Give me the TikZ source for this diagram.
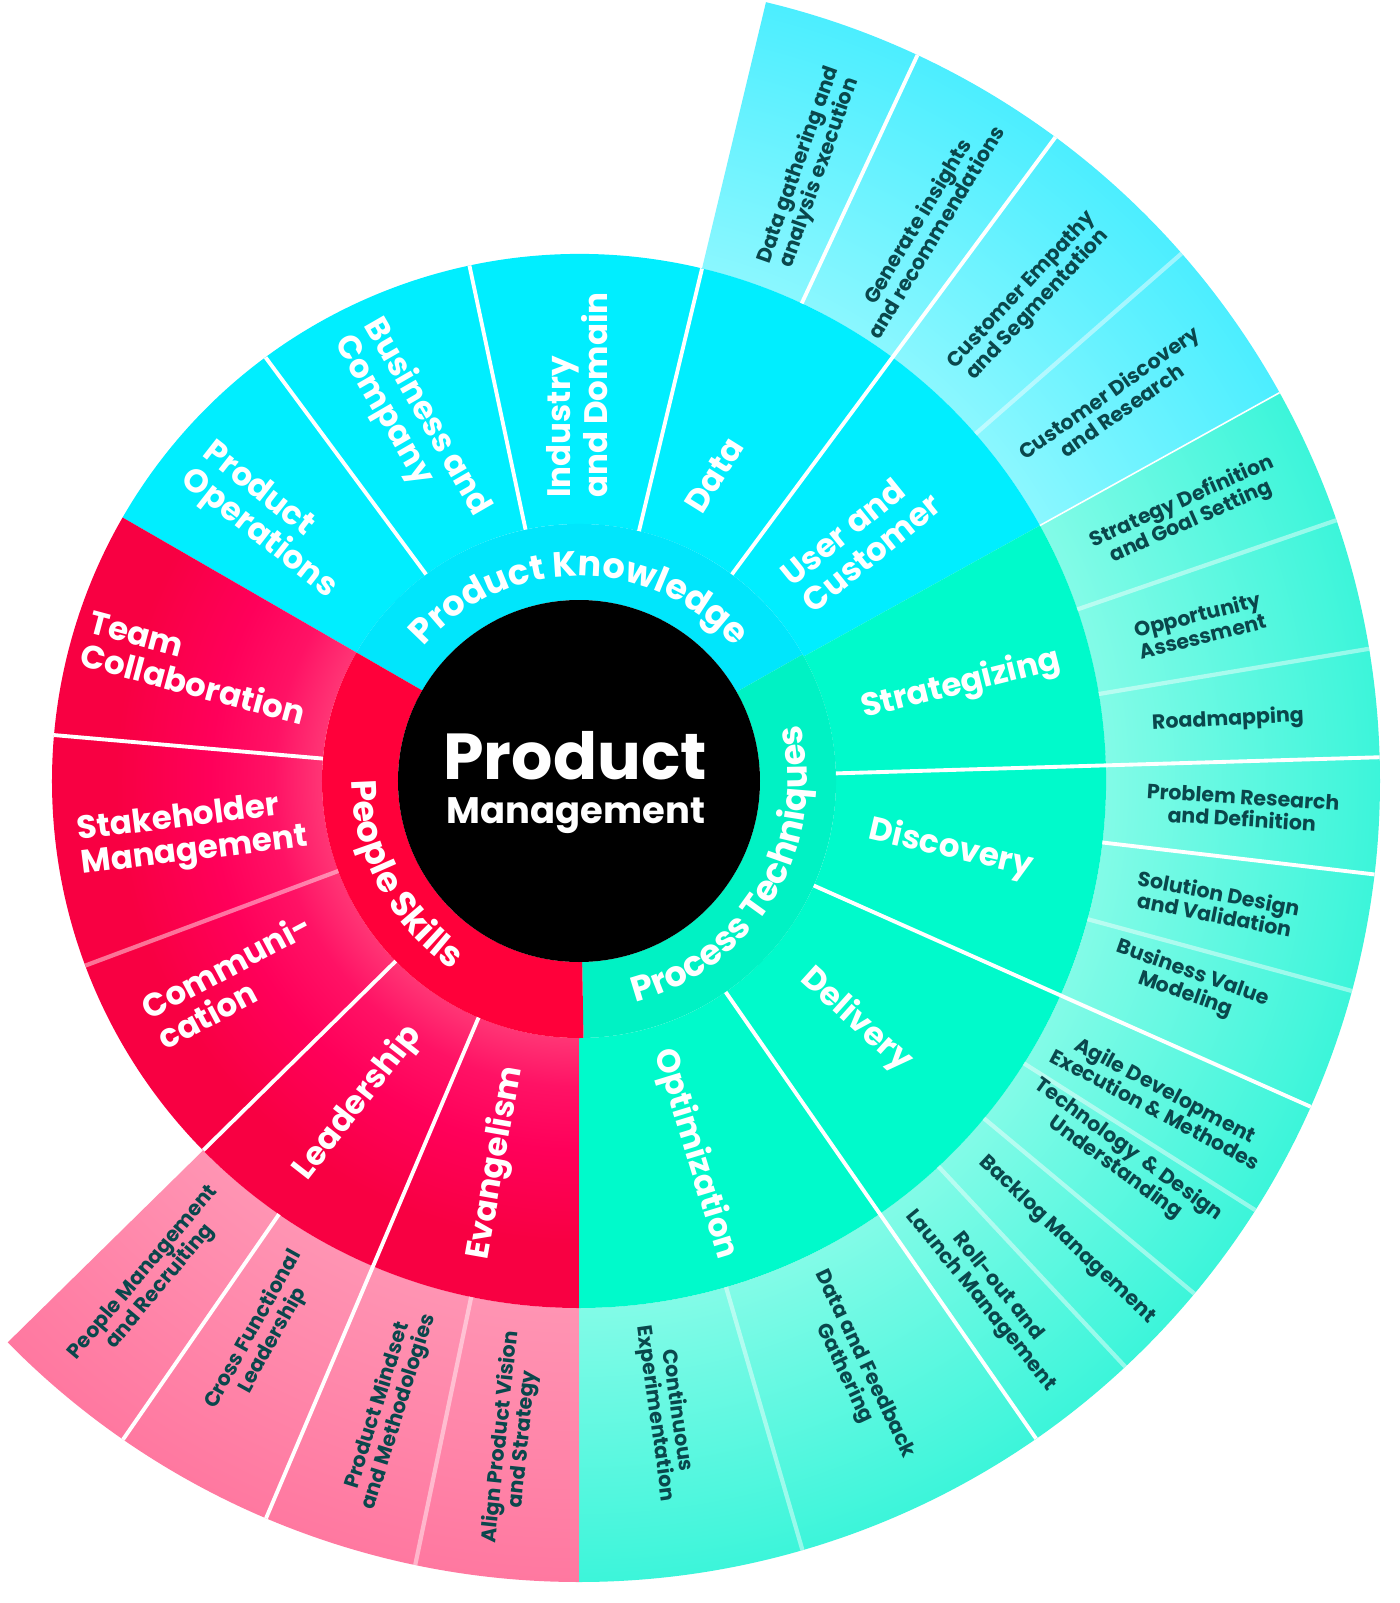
\documentclass[tikz,border=0pt]{standalone}
\usepackage{fontspec}
\setmainfont{Poppins}
\usetikzlibrary{decorations.text}

\definecolor{pkinner}{HTML}{00E6FC}
\definecolor{pkmid}{HTML}{00EEFF}
\definecolor{pkleafin}{HTML}{8AF7FF}
\definecolor{pkleafout}{HTML}{4CEEFF}
\definecolor{ptinner}{HTML}{00F2C4}
\definecolor{ptmid}{HTML}{00FACB}
\definecolor{ptleafin}{HTML}{82FBE7}
\definecolor{ptleafout}{HTML}{3CF5DA}
\definecolor{psinner}{HTML}{FF003A}
\definecolor{psmid}{HTML}{FF005A}
\definecolor{psouter}{HTML}{F80042}
\definecolor{psglow}{HTML}{FF3575}
\definecolor{psglowb}{HTML}{FF1265}
\definecolor{psleafin}{HTML}{FF94B3}
\definecolor{psleafout}{HTML}{FF78A0}
\definecolor{leaftext}{HTML}{0A474C}

\pgfdeclareradialshading{psringshade}{\pgfpoint{0bp}{0bp}}{color(0bp)=(psglow); color(12.2bp)=(psglow); color(14.5bp)=(psglowb); color(17.5bp)=(psmid); color(22bp)=(psouter); color(25bp)=(psouter); color(50bp)=(psouter)}
\pgfdeclareradialshading{pkleafshade}{\pgfpoint{0bp}{0bp}}{color(0bp)=(pkleafin); color(16.45bp)=(pkleafin); color(25bp)=(pkleafout); color(50bp)=(pkleafout)}
\pgfdeclareradialshading{ptleafshade}{\pgfpoint{0bp}{0bp}}{color(0bp)=(ptleafin); color(16.45bp)=(ptleafin); color(25bp)=(ptleafout); color(50bp)=(ptleafout)}
\pgfdeclareradialshading{psleafshade}{\pgfpoint{0bp}{0bp}}{color(0bp)=(psleafin); color(16.45bp)=(psleafin); color(25bp)=(psleafout); color(50bp)=(psleafout)}

\newcommand{\ringpart}[5]{\fill[#5] (#3:#1) arc[start angle=#3, end angle=#4, radius=#1] -- (#4:#2) arc[start angle=#4, end angle=#3, radius=#2] -- cycle;}
\newcommand{\ringshade}[5]{\begin{scope}\clip (#3:#1) arc[start angle=#3, end angle=#4, radius=#1] -- (#4:#2) arc[start angle=#4, end angle=#3, radius=#2] -- cycle; \shade[shading=#5] (0,0) circle[radius=#2];\end{scope}}
\newcommand{\spoke}[4]{\draw[#4] (#1:#2) -- (#1:#3);}
\newcommand{\ringfont}{\color{white}\bfseries\fontsize{20}{24}\selectfont}

\begin{document}
\begin{tikzpicture}[x=0.02cm, y=0.02cm,
    sep/.style={white, line width=2.2pt},
    softsep/.style={white, opacity=0.45, line width=2.4pt},
    thinsep/.style={white, line width=0.9pt},
    midlabel/.style={text=white, font=\bfseries\fontsize{18.5}{19.5}\selectfont, align=left, inner sep=0pt},
    leaflabel/.style={text=leaftext, font=\bfseries\fontsize{11.7}{12.6}\selectfont, align=center, inner sep=0pt},
    centretitle/.style={text=white, font=\bfseries\fontsize{37}{40}\selectfont, inner sep=0pt},
    centresub/.style={text=white, font=\bfseries\fontsize{21}{24}\selectfont, inner sep=0pt}]
    \useasboundingbox (-579,-822) rectangle (821,781);
    \fill[white] (-579,-822) rectangle (821,781);

    \ringshade{527}{801}{29}{76.5}{pkleafshade}
    \ringshade{527}{801}{-90}{29}{ptleafshade}
    \ringshade{527}{801}{224.5}{270}{psleafshade}
    \ringpart{257}{527}{29}{150}{pkmid}
    \ringpart{257}{527}{-90}{29}{ptmid}
    \ringshade{257}{527}{150}{270}{psringshade}
    \ringpart{181}{257}{29.5}{150}{pkinner}
    \ringpart{181}{257}{-89}{29.5}{ptinner}
    \ringpart{181}{257}{150}{271}{psinner}
    \fill[black] (0,0) circle[radius=181];

    \spoke{126.5}{257}{527}{sep}
    \spoke{102}{257}{527}{sep}
    \spoke{76.5}{257}{527}{sep}
    \spoke{53.5}{257}{801}{sep}
    \spoke{175}{257}{527}{sep}
    \spoke{200.5}{257}{527}{softsep}
    \spoke{224.5}{257}{527}{sep}
    \spoke{247}{257}{801}{sep}
    \spoke{1.7}{257}{801}{sep}
    \spoke{-24}{257}{801}{sep}
    \spoke{-55.2}{257}{801}{sep}
    \spoke{65}{527}{801}{sep}
    \spoke{-6.7}{527}{801}{sep}
    \spoke{235.3}{527}{801}{sep}
    \spoke{29}{527}{801}{thinsep}
    \foreach \a in {41.2, 19, 9.5, -15.2, -32.4, -39.8, -47, -73.8, 258.2}
        {\spoke{\a}{527}{801}{softsep}}

    \path[decorate, decoration={text along path, text align=center, text={|\ringfont|Product Knowledge}}]
        (149.85:205) arc[start angle=149.85, end angle=29.85, radius=205];
    \path[decorate, decoration={text along path, text align=center, text={|\ringfont|People Skills}}]
        (153:227) arc[start angle=153, end angle=263, radius=227];
    \path[decorate, decoration={text along path, text align=center, text={|\ringfont|Process Techniques}}]
        (-90.65:228) arc[start angle=-90.65, end angle=29.35, radius=228];

    \node[centretitle, anchor=base] (pmtitle) at (-4,2) {Product};
    \node[centresub, anchor=base] (pmsub) at (-3,-42) {Management};

    \node[midlabel, rotate=-38] (prodops) at (-310,260) {Product\\Operations};
    \node[midlabel, rotate=-60] (busco) at (-167,355) {Business and\\Company};
    \node[midlabel, rotate=90] (inddom) at (-2,386) {Industry\\and Domain};
    \node[midlabel, rotate=58] (data) at (135,306) {Data};
    \node[midlabel, rotate=39] (usercust) at (281.6,242) {User and\\Customer};
    \node[midlabel, rotate=-15] (teamcollab) at (-381.5,113) {Team\\Collaboration};
    \node[midlabel, rotate=7] (stakeholder) at (-386.5,-54.5) {Stakeholder\\Management};
    \node[midlabel, rotate=28] (communication) at (-345,-199.5) {Communi-\\cation};
    \node[midlabel, rotate=52] (leadership) at (-221,-322) {Leadership};
    \node[midlabel, rotate=80] (evangelism) at (-83,-382) {Evangelism};
    \node[midlabel, rotate=14] (strategizing) at (382,96) {Strategizing};
    \node[midlabel, rotate=-13] (discovery) at (372,-68) {Discovery};
    \node[midlabel, rotate=-42] (delivery) at (277,-239) {Delivery};
    \node[midlabel, rotate=-73] (optimization) at (116,-373) {Optimization};

    \node[leaflabel, rotate=70.5] (datagathering) at (230,612) {Data gathering and\\analysis execution};
    \node[leaflabel, rotate=59] (insights) at (347,554.5) {Generate insights\\and recommendations};
    \node[leaflabel, rotate=47] (empathy) at (451,483) {Customer Empathy\\and Segmentation};
    \node[leaflabel, rotate=35] (custdiscovery) at (536,380) {Customer Discovery\\and Research};
    \node[leaflabel, rotate=24] (strategydef) at (607.7,269) {Strategy Definition\\and Goal Setting};
    \node[leaflabel, rotate=14] (opportunity) at (621,156) {Opportunity\\Assessment};
    \node[leaflabel, rotate=3] (roadmapping) at (649,61) {Roadmapping};
    \node[leaflabel, rotate=-3.5] (problem) at (663.5,-27) {Problem Research\\and Definition};
    \node[leaflabel, rotate=-11] (solution) at (637.7,-122.7) {Solution Design\\and Validation};
    \node[leaflabel, rotate=-19.5] (bizvalue) at (610,-203) {Business Value\\Modeling};
    \node[leaflabel, rotate=-28] (agile) at (581.8,-318) {Agile Development\\Execution \& Methodes};
    \node[leaflabel, rotate=-36] (techdesign) at (542.7,-378) {Technology~ \& Design\\Understanding};
    \node[leaflabel, rotate=-43.4] (backlog) at (487.7,-459) {Backlog Management};
    \node[leaflabel, rotate=-51] (rollout) at (410,-513) {Roll-out and\\Launch Management};
    \node[leaflabel, rotate=-64.5] (feedback) at (275,-588) {Data and Feedback\\Gathering};
    \node[leaflabel, rotate=-82] (experiments) at (87,-631) {Continuous\\Experimentation};
    \node[leaflabel, rotate=50] (peoplemgmt) at (-427,-499) {People Management\\and Recruiting};
    \node[leaflabel, rotate=61] (crossfunc) at (-316,-554) {Cross Functional\\Leadership};
    \node[leaflabel, rotate=72.6] (mindset) at (-190.5,-628) {Product Mindset\\and Methodologies};
    \node[leaflabel, rotate=84] (alignvision) at (-67,-657) {Align Product Vision\\and Strategy};
\end{tikzpicture}
\end{document}
